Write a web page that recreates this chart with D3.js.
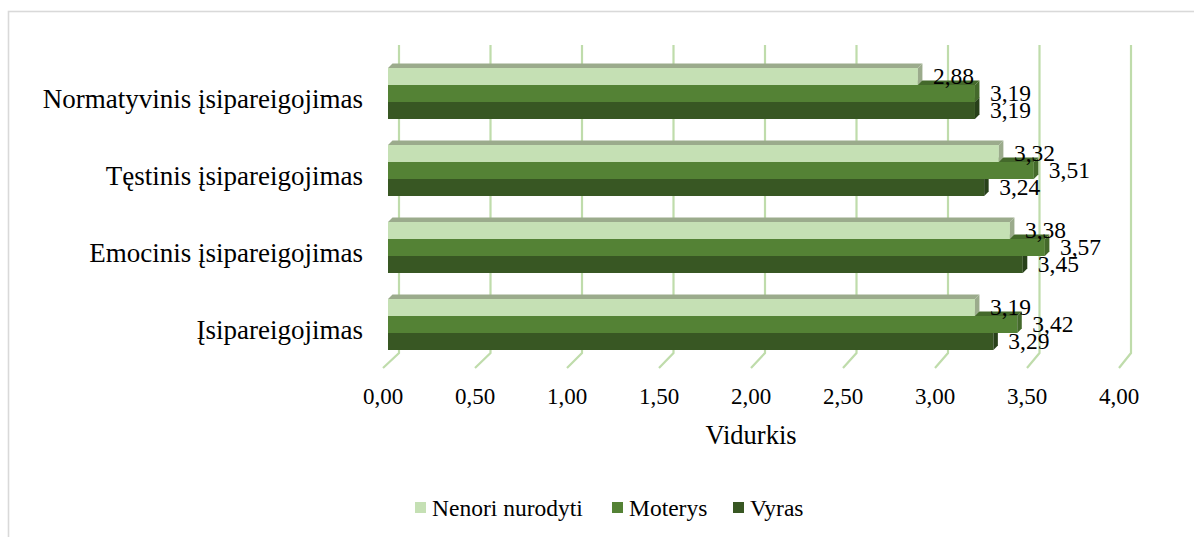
<!DOCTYPE html>
<html>
<head>
<meta charset="utf-8">
<script src="https://cdn.jsdelivr.net/npm/d3@7/dist/d3.min.js"></script>
</head>
<body style="margin:0;background:#fff">
<div id="chart"></div>
<script>
// 3D clustered bar chart: Vidurkis by category and gender

var width = 1194;
var height = 537;
var fontFamily = "'Liberation Serif', 'DejaVu Serif', serif";

// data
var categories = ["Normatyvinis įsipareigojimas", "Tęstinis įsipareigojimas", "Emocinis įsipareigojimas", "Įsipareigojimas"];
var seriesNames = ["Nenori nurodyti", "Moterys", "Vyras"];
var nenori = [2.88, 3.32, 3.38, 3.19];
var moterys = [3.19, 3.51, 3.57, 3.42];
var vyras = [3.19, 3.24, 3.45, 3.29];
var tickValues = [0, 0.5, 1, 1.5, 2, 2.5, 3, 3.5, 4];
var axisTitle = "Vidurkis";

var seriesValues = [nenori, moterys, vyras];
var frontColors = ["#c5e0b4", "#548235", "#385723"];
var shadeColors = ["#9bab8c", "#44692b", "#28411a"];

var floorDepth = 15;   // back wall offset
var barShift = 5;      // bars sit a bit behind the front plane
var barDepth = 4.5;

var svg = d3.select("#chart")
    .append("svg")
    .attr("width", width)
    .attr("height", height)
    .attr("font-family", fontFamily);

function pts(arr) { return arr.map(function(p) { return p.join(","); }).join(" "); }
function fmt(v) { return d3.format(".2f")(v).replace(".", ","); }

// chart area outline
svg.append("rect")
    .attr("x", 8.5).attr("y", 11.5)
    .attr("width", width + 20).attr("height", height + 20)
    .attr("fill", "none")
    .attr("stroke", "#d9d9d9")
    .attr("stroke-width", 1.6);

var x = d3.scaleLinear().domain([0, 4]).range([383, 1119]);
var xBack = d3.scaleLinear().domain([0, 4]).range([399, 1131]);
var y = d3.scaleBand().domain(categories).range([60, 368]);
var blockH = 51;
var y1 = d3.scaleBand().domain(seriesNames).range([0, blockH]);
var blockOff = (y.bandwidth() - blockH) / 2 - barShift;

// gridlines on back wall + floor
var grid = svg.append("g");
tickValues.forEach(function(t) {
    var xb = xBack(t);
    grid.append("polyline")
        .attr("points", pts([[xb, 45], [xb, 368 - floorDepth], [x(t), 368]]))
        .attr("fill", "none")
        .attr("stroke", "#bfdcab")
        .attr("stroke-width", 2.2);
});

// tick labels
svg.append("g").selectAll("text")
    .data(tickValues)
    .enter()
    .append("text")
    .attr("x", function(d) { return x(d); })
    .attr("y", 404)
    .attr("text-anchor", "middle")
    .attr("font-family", fontFamily)
    .attr("font-size", 23)
    .text(fmt);

// axis title
svg.append("text")
    .attr("x", 751)
    .attr("y", 444)
    .attr("text-anchor", "middle")
    .attr("font-family", fontFamily)
    .attr("font-size", 26.5)
    .text(axisTitle);

// category labels
svg.append("g").selectAll("text")
    .data(categories)
    .enter()
    .append("text")
    .attr("x", 363)
    .attr("y", function(d) { return y(d) + y.bandwidth() / 2; })
    .attr("dy", "0.35em")
    .attr("text-anchor", "end")
    .attr("font-family", fontFamily)
    .attr("font-size", 27)
    .text(function(d) { return d; });

// bars, drawn bottom series first so upper bars overlap correctly
var bars = svg.append("g");
for (var s = seriesNames.length - 1; s >= 0; s--) {
    categories.forEach(function(c, i) {
        var v = seriesValues[s][i];
        var x0 = x(0) + barShift;
        var x1 = x(v) + barShift;
        var top = y(c) + blockOff + y1(seriesNames[s]);
        var h = y1.bandwidth();
        var d = barDepth;
        var g = bars.append("g");
        g.append("rect")
            .attr("x", x0).attr("y", top)
            .attr("width", x1 - x0).attr("height", h)
            .attr("fill", frontColors[s]);
        g.append("polygon")
            .attr("points", pts([[x0, top], [x1, top], [x1 + d, top - d], [x0 + d, top - d]]))
            .attr("fill", shadeColors[s]);
        g.append("polygon")
            .attr("points", pts([[x1, top], [x1 + d, top - d], [x1 + d, top + h - d], [x1, top + h]]))
            .attr("fill", shadeColors[s]);
    });
}

// data labels
var labels = svg.append("g");
seriesNames.forEach(function(name, s) {
    categories.forEach(function(c, i) {
        var v = seriesValues[s][i];
        labels.append("text")
            .attr("x", x(v) + barShift + 15)
            .attr("y", y(c) + blockOff + y1(name) + y1.bandwidth() / 2 - 1)
            .attr("dy", "0.35em")
            .attr("font-family", fontFamily)
            .attr("font-size", 23.5)
            .text(fmt(v));
    });
});

// legend
var legendX = [415, 612, 733];
var legend = svg.append("g");
seriesNames.forEach(function(name, s) {
    legend.append("rect")
        .attr("x", legendX[s]).attr("y", 502)
        .attr("width", 11).attr("height", 11)
        .attr("fill", frontColors[s]);
    legend.append("text")
        .attr("x", legendX[s] + 17)
        .attr("y", 508)
        .attr("dy", "0.35em")
        .attr("font-family", fontFamily)
        .attr("font-size", 23.5)
        .text(name);
});
</script>
</body>
</html>
